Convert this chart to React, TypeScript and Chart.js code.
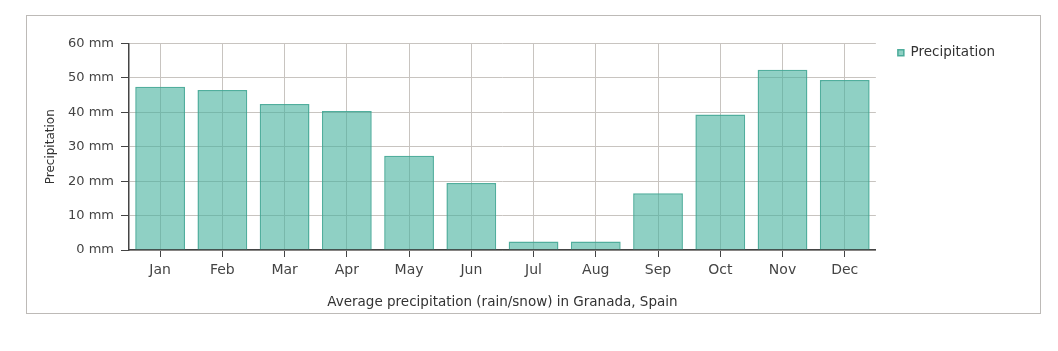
import React, { useEffect, useRef } from "react";
import { Chart, registerables } from "chart.js";

Chart.register(...registerables);

const months = ["Jan", "Feb", "Mar", "Apr", "May", "Jun", "Jul", "Aug", "Sep", "Oct", "Nov", "Dec"];
const precipitation = [47.4, 46.5, 42.4, 40.4, 27.4, 19.5, 2.5, 2.5, 16.5, 39.4, 52.4, 49.4];
const seriesLabel = "Precipitation";
const yTitle = "Precipitation";
const xTitle = "Average precipitation (rain/snow) in Granada, Spain";
const yMin = 0;
const yMax = 60;
const yStep = 10;

const FONT = "'DejaVu Sans', Verdana, sans-serif";

export default function App() {
  const ref = useRef<HTMLCanvasElement | null>(null);

  useEffect(() => {
    if (!ref.current) return;
    const chart = new Chart(ref.current, {
      type: "bar",
      data: {
        labels: months,
        datasets: [
          {
            label: seriesLabel,
            data: precipitation,
            backgroundColor: "rgba(69,176,156,0.6)",
            borderColor: "rgba(62,165,146,0.9)",
            borderWidth: 1.5,
            barPercentage: 0.8,
            categoryPercentage: 1,
          },
        ],
      },
      options: {
        animation: false,
        responsive: false,
        maintainAspectRatio: false,
        layout: { padding: { top: 8, right: 35, bottom: 0, left: 0 } },
        plugins: {
          tooltip: { enabled: false },
          legend: {
            position: "right",
            align: "start",
            labels: {
              boxWidth: 6,
              boxHeight: 6,
              padding: 22,
              color: "#333",
              font: { family: FONT, size: 13.5 },
            },
          },
        },
        scales: {
          x: {
            offset: true,
            grid: {
              offset: false,
              color: "#c8c4c0",
              tickColor: "#444",
              tickLength: 7,
              lineWidth: 1,
            },
            border: { color: "#444", width: 1.5 },
            ticks: { color: "#444", padding: 5, font: { family: FONT, size: 14 } },
            title: {
              display: true,
              text: xTitle,
              color: "#333",
              font: { family: FONT, size: 13.5 },
              padding: { top: 0, bottom: 2 },
            },
            afterFit: (s: any) => {
              s.height = 63;
            },
          },
          y: {
            min: yMin,
            max: yMax,
            grid: {
              color: "#c8c4c0",
              tickColor: "#444",
              tickLength: 8,
              lineWidth: 1,
            },
            border: { color: "#444", width: 1.5 },
            ticks: {
              stepSize: yStep,
              color: "#444",
              padding: 7,
              font: { family: FONT, size: 13 },
              callback: (v: any) => `${v} mm`,
            },
            title: {
              display: true,
              text: yTitle,
              color: "#333",
              font: { family: FONT, size: 12 },
              padding: { top: 17, bottom: 0 },
            },
            afterFit: (s: any) => {
              s.width = 102;
              s.paddingTop = 27.5;
            },
          },
        },
      },
    });
    return () => chart.destroy();
  }, []);

  return (
    <div
      style={{
        position: "absolute",
        left: 26,
        top: 15,
        width: 1015,
        height: 299,
        boxSizing: "border-box",
        border: "1px solid #bdbab7",
        background: "#fff",
      }}
    >
      <canvas ref={ref} width={1013} height={297} style={{ display: "block" }} />
    </div>
  );
}
